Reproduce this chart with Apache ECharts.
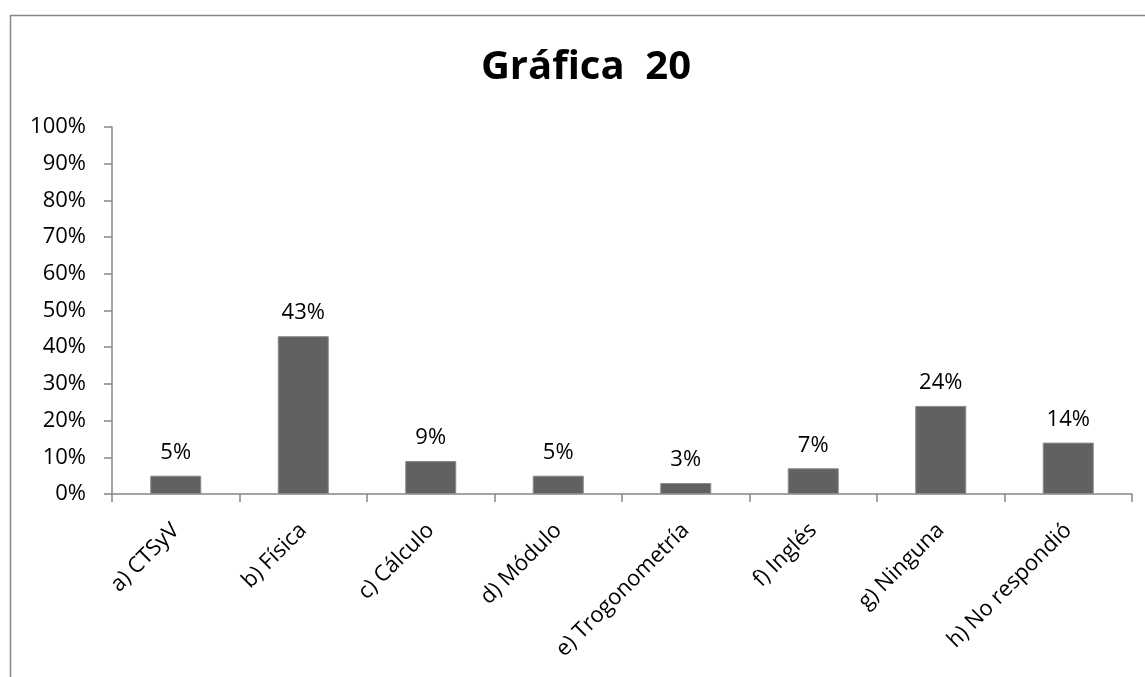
<!DOCTYPE html>
<html>
<head>
<meta charset="utf-8">
<script src="https://cdn.jsdelivr.net/npm/echarts@6/dist/echarts.min.js"></script>
<style>
html,body{margin:0;padding:0;background:#fff;}
#chart{width:1145px;height:677px;}
</style>
</head>
<body>
<div id="chart"></div>
<script>
const titleText = 'Gráfica  20';
const categories = ['a) CTSyV', 'b) Física', 'c) Cálculo', 'd) Módulo', 'e) Trogonometría', 'f) Inglés', 'g) Ninguna', 'h) No respondió'];
const values = [5, 43, 9, 5, 3, 7, 24, 14];
const yTicks = [0, 10, 20, 30, 40, 50, 60, 70, 80, 90, 100];

const chart = echarts.init(document.getElementById('chart'));
const font = '"Open Sans", "Noto Sans", sans-serif';
chart.setOption({
  animation: false,
  backgroundColor: '#fff',
  graphic: [{
    type: 'rect',
    shape: { x: 10.5, y: 15.5, width: 1200, height: 700 },
    style: { fill: 'none', stroke: '#868686', lineWidth: 1.5 },
    z: -1
  }],
  title: {
    text: titleText,
    left: 581,
    top: 43,
    textAlign: 'center',
    textStyle: { fontFamily: font, fontSize: 40, fontWeight: 'bold', color: '#000' }
  },
  grid: { left: 112, right: 13, top: 127, bottom: 183, containLabel: false },
  xAxis: {
    type: 'category',
    data: categories,
    axisLine: { lineStyle: { color: '#868686', width: 1.5 } },
    axisTick: { show: true, length: 8, alignWithLabel: false, lineStyle: { color: '#868686', width: 1.5 } },
    axisLabel: { rotate: 45, interval: 0, margin: 33, fontFamily: font, fontSize: 22, color: '#000' }
  },
  yAxis: {
    type: 'value',
    min: yTicks[0],
    max: yTicks[yTicks.length - 1],
    interval: 10,
    axisLine: { show: true, lineStyle: { color: '#868686', width: 1.5 } },
    axisTick: { show: true, length: 8, lineStyle: { color: '#868686', width: 1.5 } },
    splitLine: { show: false },
    axisLabel: { formatter: '{value}%', margin: 26, fontFamily: font, fontSize: 22, color: '#000' }
  },
  series: [{
    type: 'bar',
    data: values,
    barWidth: '40%',
    itemStyle: { color: '#616161', borderColor: '#8a8a8a', borderWidth: 1 },
    label: {
      show: true,
      position: 'top',
      distance: 12,
      formatter: '{c}%',
      fontFamily: font,
      fontSize: 22,
      color: '#000'
    }
  }]
});
</script>
</body>
</html>
